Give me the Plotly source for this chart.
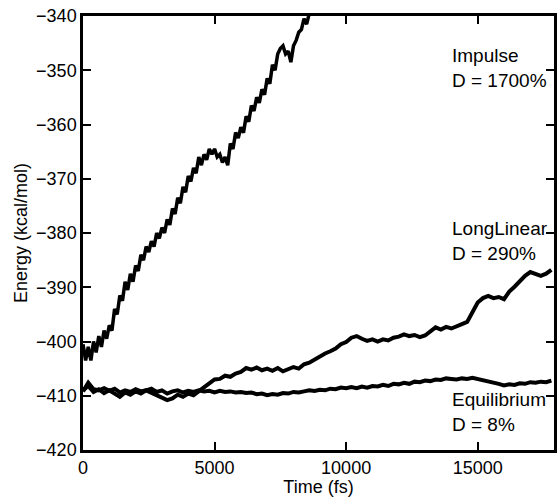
import plotly.graph_objects as go

# ---- data ----
impulse_time = list(range(0, 8800, 100))
impulse_energy = [
    -400.5, -403.5, -401.0, -403.5, -400.0, -402.0, -399.0, -401.0, -398.0, -399.5,
    -397.0, -398.0, -394.0, -395.0, -391.5, -392.5, -389.0, -390.5, -387.5, -389.0,
    -386.0, -387.0, -384.0, -385.0, -382.5, -383.5, -381.5, -382.5, -380.0, -381.0,
    -379.0, -380.0, -377.5, -378.5, -375.5, -376.5, -373.5, -374.5, -371.5, -372.5,
    -369.5, -370.5, -368.0, -369.0, -366.0, -367.5, -365.5, -366.5, -364.5, -365.5,
    -364.5, -366.0, -365.5, -367.0, -366.0, -367.5, -363.5, -364.5, -361.5, -362.5,
    -360.5, -361.5, -358.5, -359.5, -356.5, -357.5, -355.0, -356.0, -353.5, -354.5,
    -351.5, -352.5, -349.0, -350.0, -347.0, -346.0, -345.5, -347.0, -346.5, -348.5,
    -345.5, -344.5, -343.0, -342.5, -340.5, -341.5, -339.5, -338.0,
]

run_time = list(range(0, 17900, 200))
longlinear_energy = [
    -409.0, -408.2, -409.3, -408.8, -409.5, -409.0, -409.6, -410.2, -409.4, -409.8,
    -409.2, -409.6, -409.0, -409.5, -409.8, -410.3, -410.8, -410.5, -409.8, -410.2,
    -409.6, -409.9, -409.2, -408.4, -407.6, -407.0, -406.9, -406.3, -406.5, -405.9,
    -405.6, -404.9, -405.2, -404.8, -405.3, -405.0, -405.4, -404.9, -405.5, -405.1,
    -404.7, -405.0, -404.2, -403.9, -403.3, -402.9, -402.2, -401.8, -401.3, -400.5,
    -400.1, -399.3, -399.0, -399.5, -399.9, -399.6, -400.0, -399.6, -399.8, -399.3,
    -399.1, -398.7, -399.0, -398.8, -399.2, -398.9, -398.1, -397.4, -397.8, -397.3,
    -397.6, -397.1, -396.8, -396.4, -394.5, -392.8, -392.0, -391.6, -392.0, -391.8,
    -392.2, -390.8, -389.9, -388.9, -387.9, -387.2, -387.6, -387.9, -387.5, -386.8,
]
equilibrium_energy = [
    -409.2, -407.6, -408.8, -409.0, -408.6, -409.1, -408.7, -409.4, -409.0, -409.3,
    -408.8, -409.2, -409.0, -408.7, -409.3, -409.0, -409.6, -409.2, -409.0, -409.4,
    -409.1, -409.3, -409.0, -409.2, -409.1, -409.4, -409.1, -409.3, -409.2, -409.4,
    -409.3, -409.5, -409.4, -409.7, -409.6, -409.9, -409.7, -409.8, -409.5, -409.6,
    -409.3, -409.4, -409.2, -409.0, -409.1, -408.9, -409.0, -408.7, -408.8, -408.5,
    -408.6, -408.4, -408.6, -408.3, -408.5, -408.2, -408.3, -408.0, -408.2, -407.8,
    -407.9, -407.6, -407.8, -407.4, -407.5, -407.2, -407.3, -407.0, -407.1, -406.8,
    -406.9, -407.0, -406.8, -406.9, -406.7, -406.9, -407.1, -407.3, -407.6, -407.8,
    -408.1, -407.9, -408.0, -407.7, -407.8, -407.5, -407.6, -407.4, -407.5, -407.2,
]

x_ticks = [0, 5000, 10000, 15000]
y_ticks = [-420, -410, -400, -390, -380, -370, -360, -350, -340]
labels = [
    ("Impulse<br>D = 1700%", -349.5),
    ("LongLinear<br>D = 290%", -381.5),
    ("Equilibrium<br>D = 8%", -413.0),
]

FONT = "Liberation Sans, Arial, Helvetica, sans-serif"

fig = go.Figure()
series = [(impulse_time, impulse_energy, 3.5),
          (run_time, longlinear_energy, 4),
          (run_time, equilibrium_energy, 4)]
for t, e, w in series:
    fig.add_trace(go.Scatter(x=t, y=e, mode="lines",
                             line=dict(color="black", width=w), showlegend=False))

for text, yv in labels:
    fig.add_annotation(x=13960, y=yv, xref="x", yref="y", text=text, showarrow=False,
                       xanchor="left", yanchor="middle", align="left",
                       font=dict(family=FONT, size=19, color="black"))

axis_common = dict(showline=True, linecolor="black", linewidth=2.5, mirror="ticks",
                   ticks="inside", ticklen=8, tickwidth=2, tickcolor="black",
                   showgrid=False, zeroline=False,
                   tickfont=dict(family=FONT, size=18, color="black"))

fig.update_xaxes(range=[0, 17900], tickvals=x_ticks, ticktext=[str(v) for v in x_ticks],
                 title=dict(text="Time (fs)", font=dict(family=FONT, size=18, color="black"), standoff=3),
                 **axis_common)
fig.update_yaxes(range=[-420, -340], tickvals=y_ticks,
                 ticktext=["\u2212" + str(-v) for v in y_ticks],
                 title=dict(text="Energy (kcal/mol)", font=dict(family=FONT, size=18, color="black"), standoff=4),
                 **axis_common)

fig.update_layout(width=560, height=497, margin=dict(l=83, r=3, t=16, b=45),
                  plot_bgcolor="white", paper_bgcolor="white")

fig.write_html("out.html")
